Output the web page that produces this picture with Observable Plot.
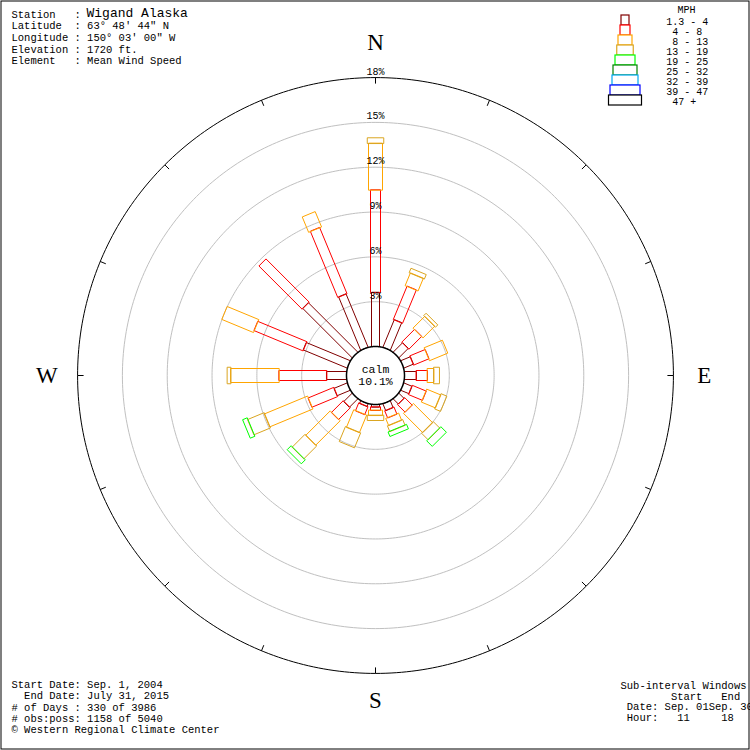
<!DOCTYPE html>
<html>
<head>
<meta charset="utf-8">
<script src="https://cdn.jsdelivr.net/npm/d3@7"></script>
<script src="https://cdn.jsdelivr.net/npm/@observablehq/plot@0.6"></script>
<style>
  html, body { margin: 0; padding: 0; background: #fff; }
  #wrap { position: relative; width: 750px; height: 750px; }
  #legend { position: absolute; left: 600px; top: 0px; }
  svg text { white-space: pre; }
</style>
</head>
<body>
<div id="wrap"></div>
<script>
// ---------------- data ----------------
const directions = ["N","NNE","NE","ENE","E","ESE","SE","SSE","S","SSW","SW","WSW","W","WNW","NW","NNW"];
const speedClasses = ["1.3 - 4","4 - 8","8 - 13","13 - 19","19 - 25","25 - 32","32 - 39","39 - 47","47 +"];
const legendLabels = ["1.3 - 4"," 4 - 8"," 8 - 13","13 - 19","19 - 25","25 - 32","32 - 39","39 - 47"," 47 +"];
const classColors = ["#800000","#ff0000","#ffa500","#daa520","#00ff00","#008000","#00a8f0","#0000ff","#000000"];

// percent of observations per direction, by speed class (MPH)
const speed1to4   = [3.63, 2.00, 0.90, 0.70, 0.80, 0.60, 0.50, 0.50, 0.18, 0.20, 0.80, 0.96, 1.34, 3.19, 4.69, 3.87];
const speed4to8   = [6.86, 2.40, 1.20, 1.10, 0.74, 1.00, 0.70, 0.50, 0.22, 0.56, 1.10, 1.85, 3.19, 3.54, 4.07, 4.78];
const speed8to13  = [3.12, 0.90, 1.10, 1.30, 0.43, 1.00, 1.80, 0.50, 0.34, 1.25, 2.30, 3.11, 3.23, 2.27, 0.00, 1.09];
const speed13to19 = [0.36, 0.30, 0.20, 0.00, 0.37, 0.40, 0.60, 0.40, 0.33, 1.06, 1.20, 1.18, 0.23, 0.00, 0.00, 0.00];
const speed19to25 = [0.00, 0.00, 0.00, 0.00, 0.00, 0.00, 0.50, 0.30, 0.00, 0.00, 0.35, 0.31, 0.00, 0.00, 0.00, 0.00];
const speed25to32 = [0,0,0,0,0,0,0,0,0,0,0,0,0,0,0,0];
const speed32to39 = [0,0,0,0,0,0,0,0,0,0,0,0,0,0,0,0];
const speed39to47 = [0,0,0,0,0,0,0,0,0,0,0,0,0,0,0,0];
const speed47plus = [0,0,0,0,0,0,0,0,0,0,0,0,0,0,0,0];

const ringPercents = [3, 6, 9, 12, 15, 18];
const calmPercent = 10.1;

const headerLines = [
  "Station   : ",
  "Latitude  : 63° 48' 44\" N",
  "Longitude : 150° 03' 00\" W",
  "Elevation : 1720 ft.",
  "Element   : Mean Wind Speed"
];
const stationName = "Wigand Alaska";
const footerLeftLines = [
  "Start Date: Sep. 1, 2004",
  "  End Date: July 31, 2015",
  "# of Days : 330 of 3986",
  "# obs:poss: 1158 of 5040",
  "© Western Regional Climate Center"
];
const footerRightLines = [
  "Sub-interval Windows",
  "        Start   End",
  " Date: Sep. 01Sep. 30",
  " Hour:   11     18"
];

// ---------------- styling constants ----------------
const pxPerPct = 14.94;             // radial scale
const calmR = 29 / pxPerPct;        // calm circle radius in % units
const half = 375 / pxPerPct;        // half extent of the plot in % units
const classWidthPx = [8, 10, 14, 16.5, 20, 24, 26, 30, 33];
const speedSeries = [speed1to4, speed4to8, speed8to13, speed13to19, speed19to25, speed25to32, speed32to39, speed39to47, speed47plus];
const rad = d => d * Math.PI / 180;

// ---------------- derived geometry ----------------
const barPts = [];
directions.forEach((dir, i) => {
  const t = rad(i * 360 / directions.length);
  const ux = Math.sin(t), uy = Math.cos(t), vx = Math.cos(t), vy = -Math.sin(t);
  let cum = 0;
  speedSeries.forEach((series, c) => {
    const v = series[i];
    if (!v) return;
    const a = calmR + cum, b = calmR + cum + v;
    cum += v;
    const h = classWidthPx[c] / 2 / pxPerPct;
    const id = dir + "-" + c;
    [[a, h], [b, h], [b, -h], [a, -h]].forEach(([r, o]) =>
      barPts.push({id, cls: speedClasses[c], order: c, x: r * ux + o * vx, y: r * uy + o * vy}));
  });
});
barPts.sort((p, q) => p.order - q.order);

const circlePts = (pct, key) => d3.range(0, 360, 1).map(a => ({key, x: (calmR + pct) * Math.sin(rad(a)), y: (calmR + pct) * Math.cos(rad(a))}));
const grayRings = ringPercents.slice(0, -1).flatMap(p => circlePts(p, p));
const outerRing = circlePts(ringPercents[ringPercents.length - 1], "outer");
const calmCircle = circlePts(0, "calm");
const outerR = calmR + ringPercents[ringPercents.length - 1];
const tickLen = 6 / pxPerPct;
const ticks = directions.map((d, i) => ({t: rad(i * 360 / directions.length)}));
const cardinals = directions.map((d, i) => ({label: d, t: rad(i * 360 / directions.length)})).filter((d, i) => i % 4 === 0);
const letterR = 22.0;

const chart = Plot.plot({
  width: 750, height: 750, margin: 0,
  x: {domain: [-half, half], axis: null},
  y: {domain: [-half, half], axis: null},
  color: {domain: speedClasses, range: classColors},
  style: {background: "white"},
  marks: [
    Plot.frame({stroke: "black", insetLeft: 0.5, insetTop: 0.5, insetRight: 1.5, insetBottom: 1.5}),
    Plot.line(grayRings, {x: "x", y: "y", z: "key", curve: "linear-closed", stroke: "#c0c0c0", strokeWidth: 1}),
    Plot.line(outerRing, {x: "x", y: "y", curve: "linear-closed", stroke: "black", strokeWidth: 1}),
    Plot.link(ticks, {
      x1: d => outerR * Math.sin(d.t), y1: d => outerR * Math.cos(d.t),
      x2: d => (outerR - tickLen) * Math.sin(d.t), y2: d => (outerR - tickLen) * Math.cos(d.t),
      stroke: "black", strokeWidth: 1
    }),
    Plot.line(barPts, {x: "x", y: "y", z: "id", stroke: "cls", curve: "linear-closed", strokeWidth: 1}),
    Plot.line(calmCircle, {x: "x", y: "y", curve: "linear-closed", stroke: "black", fill: "white", strokeWidth: 1.5}),
    Plot.text([`calm\n${calmPercent}%`], {x: 0, y: 0, text: d => d, fontFamily: "Liberation Mono, DejaVu Sans Mono, monospace", fontSize: 11.5, lineHeight: 1.0, fill: "black"}),
    Plot.text(ringPercents, {x: 0, y: p => calmR + p, text: p => p + "%", lineAnchor: "bottom", dy: -3, fontFamily: "Liberation Mono, DejaVu Sans Mono, monospace", fontSize: 10, fill: "black"}),
    Plot.text(cardinals.filter(d => d.label === "N" || d.label === "S"), {
      x: d => letterR * Math.sin(d.t), y: d => letterR * Math.cos(d.t), text: "label", dy: -4,
      fontFamily: "Liberation Serif, DejaVu Serif, serif", fontSize: 23, fill: "black"}),
    Plot.text(cardinals.filter(d => d.label === "E" || d.label === "W"), {
      x: d => letterR * Math.sin(d.t), y: d => letterR * Math.cos(d.t), text: "label",
      fontFamily: "Liberation Serif, DejaVu Serif, serif", fontSize: 23, fill: "black"}),
    Plot.text([headerLines.join("\n")], {frameAnchor: "top-left", text: d => d, dx: 11, dy: 9.2, lineAnchor: "top", lineHeight: 1.1, fontFamily: "Liberation Mono, monospace", fontSize: 10.5, fill: "black"}),
    Plot.text([stationName], {frameAnchor: "top-left", text: d => d, dx: 86, dy: 7.5, lineAnchor: "top", fontFamily: "Liberation Mono, monospace", fontSize: 13, fill: "black"}),
    Plot.text([footerLeftLines.join("\n")], {frameAnchor: "top-left", text: d => d, dx: 11, dy: 679.5, lineAnchor: "top", lineHeight: 1.076, fontFamily: "Liberation Mono, monospace", fontSize: 10.5, fill: "black"}),
    Plot.text([footerRightLines.join("\n")], {frameAnchor: "top-left", text: d => d, dx: 620, dy: 681, lineAnchor: "top", lineHeight: 1.01, fontFamily: "Liberation Mono, monospace", fontSize: 10.5, fill: "black"})
  ]
});

const legend = Plot.plot({
  width: 148, height: 110, margin: 0,
  x: {domain: [0, 148], range: [0, 148], axis: null},
  y: {type: "band", domain: speedClasses, range: [15, 105], padding: 0, axis: null},
  color: {domain: speedClasses, range: classColors},
  marks: [
    Plot.rect(speedClasses, {
      x1: (d, i) => 25 - classWidthPx[i] / 2, x2: (d, i) => 25 + classWidthPx[i] / 2,
      y: d => d, stroke: d => d, fill: "white", strokeWidth: 1.2
    }),
    Plot.text(speedClasses, {x: 65.7, y: d => d, text: (d, i) => legendLabels[i], textAnchor: "start", dy: 1.5,
      fontFamily: "Liberation Mono, monospace", fontSize: 10, fill: "black"}),
    Plot.text(["MPH"], {frameAnchor: "top-left", text: d => d, dx: 77, dy: 5, lineAnchor: "top",
      fontFamily: "Liberation Mono, monospace", fontSize: 10, fill: "black"})
  ]
});
legend.id = "legend";

const wrap = document.getElementById("wrap");
wrap.appendChild(chart);
wrap.appendChild(legend);
</script>
</body>
</html>
